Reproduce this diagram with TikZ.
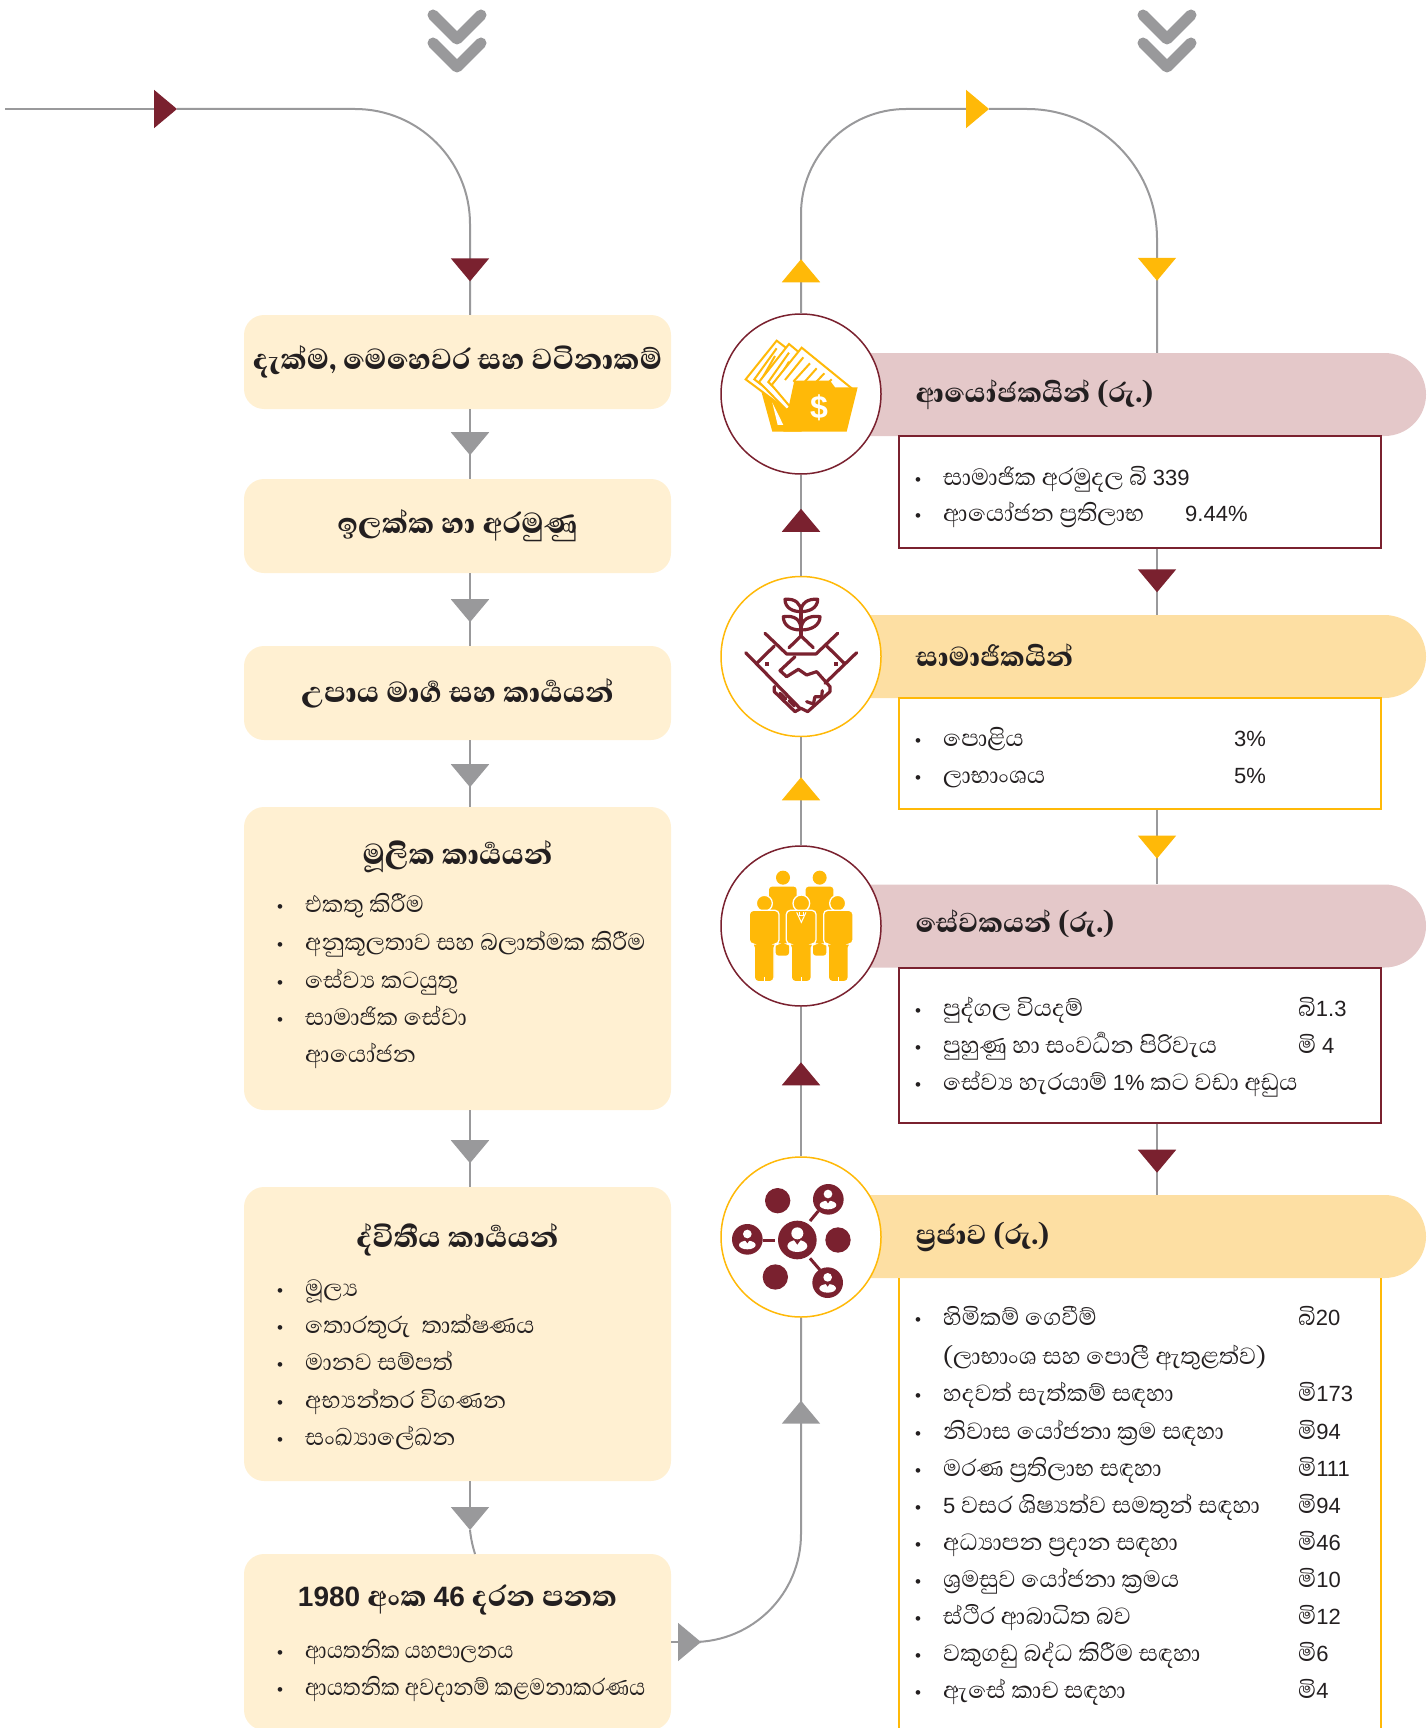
\documentclass[tikz,border=0pt]{standalone}
\usepackage{fontspec}
\usetikzlibrary{arrows.meta,decorations.markings,shapes.misc,calc}
\setmainfont{Liberation Sans}
\newfontfamily\sinfont[Script=Sinhala,BoldFont={Abhaya Libre ExtraBold}]{Abhaya Libre}
\newfontfamily\numfont{Liberation Sans}
\newcommand\rowfont{\sinfont\fontsize{30}{34}\selectfont}
\newcommand\headfont{\sinfont\bfseries\fontsize{37}{40}\selectfont}
\newcommand\leadfont{\sinfont\bfseries\fontsize{35}{38}\selectfont}
\newcommand\bul{\makebox[28pt][l]{\numfont\fontsize{17}{20}\selectfont •}}
\newcommand\nm[1]{{\numfont\fontsize{22}{30}\selectfont #1}}
\newcommand\hnm[1]{{\numfont\bfseries\fontsize{28}{30}\selectfont #1}}
\definecolor{wine}{HTML}{7A212F}
\definecolor{gold}{HTML}{FFB908}
\definecolor{slate}{HTML}{99999B}
\definecolor{cream}{HTML}{FFF0D2}
\definecolor{rose}{HTML}{E4C8C9}
\definecolor{sand}{HTML}{FDDFA3}
\definecolor{inkc}{HTML}{231F20}
\begin{document}
\begin{tikzpicture}[x=1pt,y=-1pt]
 \tikzset{
  flow/.style={draw=slate, line width=2pt},
  tipat/.style 2 args={postaction={decorate}, decoration={markings, mark=at position #1 with {\arrow{Triangle[length=23pt,width=38pt,color=#2,fill=#2]}}}},
  tipend/.style={-{Triangle[length=23pt,width=38pt,color=#1,fill=#1]}},
  card/.style={fill=cream, rounded corners=20pt, minimum width=427pt, inner sep=0pt, text=inkc},
  banner/.style={rounded rectangle, rounded rectangle left arc=none, minimum width=640pt, minimum height=83pt, inner sep=0pt, fill=#1},
  hub/.style={draw=#1, circle, line width=1.5pt, fill=white, minimum size=160pt, inner sep=0pt},
  panel/.style={draw=#1, line width=1.2pt, fill=white, minimum width=482pt, inner sep=0pt},
  head/.style={font=\headfont, text=inkc, anchor=base, yshift=-9pt, inner sep=0pt},
  lead/.style={font=\leadfont, text=inkc, anchor=base west, yshift=-9pt, inner sep=0pt},
  row/.style={font=\rowfont, text=inkc, anchor=base west, yshift=-8pt, inner sep=0pt},
  chevron/.style={draw=slate, line width=11pt, line cap=round, line join=round},
  glyph/.style={draw=wine, line width=3.2pt, line cap=round, line join=round},
 }
 \path[use as bounding box, clip] (0,0) rectangle (1426,1728);

 % axes of the three vertical runs
 \coordinate (laxis) at (470,0);
 \coordinate (maxis) at (801,0);
 \coordinate (raxis) at (1157,0);
 \coordinate (start) at (5,109);

 % left column
 \node[card, minimum height=94pt, font=\headfont] (vision) at (457.5,362) {දැක්ම, මෙහෙවර සහ වටිනාකම්};
 \node[card, minimum height=94pt, font=\headfont] (goals) at (457.5,526) {ඉලක්ක හා අරමුණු};
 \node[card, minimum height=94pt, font=\headfont] (strategy) at (457.5,693) {උපාය මාර්‍ග සහ කාර්‍යයන්};
 \node[card, minimum height=303pt] (primary) at (457.5,958.5) {};
 \node[card, minimum height=294pt] (support) at (457.5,1334) {};
 \node[card, minimum height=176pt] (act) at (457.5,1642) {};

 % right column
 \node[banner=rose] (investors) at (1106,394.5) {};
 \node[banner=sand] (members) at (1106,656.5) {};
 \node[banner=rose] (staff) at (1106,926) {};
 \node[banner=sand] (public) at (1106,1236.5) {};
 \node[panel=wine, minimum height=112pt] (investorsbox) at (1140,492) {};
 \node[panel=gold, minimum height=111pt] (membersbox) at (1140,753.5) {};
 \node[panel=wine, minimum height=155pt] (staffbox) at (1140,1045.5) {};
 \coordinate (publicl) at (899,1278);
 \coordinate (publicr) at (1381,1278);
 \draw[draw=gold, line width=1.2pt] (publicl) -- (publicl |- 0,1728);
 \draw[draw=gold, line width=1.2pt] (publicr) -- (publicr |- 0,1728);
 \node[hub=wine] (investorsicon) at (801,394) {};
 \node[hub=gold] (membersicon) at (801,656.5) {};
 \node[hub=wine] (stafficon) at (801,926) {};
 \node[hub=gold] (publicicon) at (801,1237) {};

 % connectors, left column
 \coordinate (toptip) at (177,109);
 \draw[flow, tipend=wine] (start) -- (toptip);
 \draw[flow, rounded corners=115pt, tipat={416pt}{wine}] (toptip) -- (laxis |- toptip) -- (laxis |- vision.north);
 \draw[flow, tipat={46pt}{slate}] (laxis |- vision.south) -- (laxis |- goals.north);
 \draw[flow, tipat={49pt}{slate}] (laxis |- goals.south) -- (laxis |- strategy.north);
 \draw[flow, tipat={47pt}{slate}] (laxis |- strategy.south) -- (laxis |- primary.north);
 \draw[flow, tipat={53pt}{slate}] (laxis |- primary.south) -- (laxis |- support.north);
 \coordinate (actin) at (475,1554);
 \coordinate (actbend) at (470,1530);
 \draw[flow, tipend=slate] (laxis |- support.south) -- (actbend);
 \draw[flow] (actbend) .. controls (471,1540) and (473,1547) .. (actin);

 % connectors, right column
 \coordinate (acttip) at (701,1642);
 \coordinate (toprtip) at (989,109);
 \draw[flow, tipend=slate] (act.east) -- (acttip);
 \draw[flow, rounded corners=108pt, tipat={311pt}{slate}] (acttip) -- (maxis |- acttip) -- (publicicon.south);
 \draw[flow, tipat={94pt}{wine}] (publicicon.north) -- (stafficon.south);
 \draw[flow, tipat={68pt}{gold}] (stafficon.north) -- (membersicon.south);
 \draw[flow, tipat={67pt}{wine}] (membersicon.north) -- (investorsicon.south);
 \draw[flow, tipend=gold, tipat={54pt}{gold}] (maxis |- investorsicon.north) [rounded corners=105pt] -- (maxis |- toprtip) -- (toprtip);
 \draw[flow, rounded corners=130pt, tipat={284pt}{gold}] (toprtip) -- (raxis |- toprtip) -- (raxis |- investors.north);
 \draw[flow, tipat={0.66}{wine}] (raxis |- investorsbox.south) -- (raxis |- members.north);
 \draw[flow, tipat={49pt}{gold}] (raxis |- membersbox.south) -- (raxis |- staff.north);
 \draw[flow, tipat={0.69}{wine}] (raxis |- staffbox.south) -- (raxis |- public.north);

 % the two chevron marks on top
 \coordinate (chevl) at (457,38);
 \coordinate (chevr) at (1167,38);
 \draw[chevron] ($(chevl)+(-24,-23)$) -- ($(chevl)+(0,1)$) -- ($(chevl)+(24,-23)$);
 \draw[chevron] ($(chevl)+(-24,5)$) -- ($(chevl)+(0,29)$) -- ($(chevl)+(24,5)$);
 \draw[chevron] ($(chevr)+(-24,-23)$) -- ($(chevr)+(0,1)$) -- ($(chevr)+(24,-23)$);
 \draw[chevron] ($(chevr)+(-24,5)$) -- ($(chevr)+(0,29)$) -- ($(chevr)+(24,5)$);

 % texts of the left cards
 \node[head] (primaryhead) at (457.5,855) {මූලික කාර්‍යයන්};
 \node[row] (p1) at (277,904) {\bul එකතු කිරීම};
 \node[row] (p2) at (277,942) {\bul අනුකූලතාව සහ බලාත්මක කිරීම};
 \node[row] (p3) at (277,980) {\bul සේව්‍ය කටයුතු};
 \node[row] (p4) at (277,1017) {\bul සාමාජික සේවා};
 \node[row] (p5) at (305,1054) {ආයෝජන};
 \node[head] (supporthead) at (457.5,1238) {ද්විතීය කාර්‍යයන්};
 \node[row] (s1) at (277,1288) {\bul මූල්‍ය};
 \node[row] (s2) at (277,1325) {\bul තොරතුරු\ \ තාක්ෂණය};
 \node[row] (s3) at (277,1362) {\bul මානව සම්පත්};
 \node[row] (s4) at (277,1400) {\bul අභ්‍යන්තර විගණන};
 \node[row] (s5) at (277,1437) {\bul සංඛ්‍යාලේඛන};
 \node[head] (acthead) at (457.5,1597) {\hnm{1980} අංක \hnm{46} දරන පනත};
 \node[row] (a1) at (277,1650) {\bul \scalebox{.88}[1]{ආයතනික යහපාලනය}};
 \node[row] (a2) at (277,1687) {\bul \scalebox{.88}[1]{ආයතනික අවදානම් කළමනාකරණය}};

 % texts of the right panels
 \node[lead] (investorshead) at (915.5,393) {ආයෝජකයින් (රු.)};
 \node[row] (i1) at (915,477) {\bul සාමාජික අරමුදල බි \nm{339}};
 \node[row] (i2) at (915,513) {\bul ආයෝජන ප්‍රතිලාභ};
 \node[row] (i2v) at (1185,513) {\nm{9.44\%}};
 \node[lead] (membershead) at (915.5,657) {සාමාජිකයින්};
 \node[row] (m1) at (915,738) {\bul පොළිය};
 \node[row] (m1v) at (1234,738) {\nm{3\%}};
 \node[row] (m2) at (915,775) {\bul ලාභාංශය};
 \node[row] (m2v) at (1234,775) {\nm{5\%}};
 \node[lead] (staffhead) at (915.5,923) {සේවකයන් (රු.)};
 \node[row] (t1) at (915,1008) {\bul පුද්ගල වියදම්};
 \node[row] (t1v) at (1298,1008) {බි\nm{1.3}};
 \node[row] (t2) at (915,1045) {\bul පුහුණු හා සංවර්‍ධන පිරිවැය};
 \node[row] (t2v) at (1298,1045) {මි \nm{4}};
 \node[row] (t3) at (915,1082) {\bul සේව්‍ය හැරයාම් \nm{1\%} කට වඩා අඩුය};
 \node[lead] (publichead) at (915.5,1235) {ප්‍රජාව (රු.)};
 \node[row] (u1) at (915,1317) {\bul හිමිකම් ගෙවීම්};
 \node[row] (u1v) at (1298,1317) {බි\nm{20}};
 \node[row] (u2) at (943,1356) {(ලාභාංශ සහ පොලී ඇතුළත්ව)};
 \node[row] (u3) at (915,1393) {\bul හදවත් සැත්කම් සඳහා};
 \node[row] (u3v) at (1298,1393) {මි\nm{173}};
 \node[row] (u4) at (915,1431) {\bul නිවාස යෝජනා ක්‍රම සඳහා};
 \node[row] (u4v) at (1298,1431) {මි\nm{94}};
 \node[row] (u5) at (915,1468) {\bul මරණ ප්‍රතිලාභ සඳහා};
 \node[row] (u5v) at (1298,1468) {මි\nm{111}};
 \node[row] (u6) at (915,1505) {\bul \nm{5} වසර ශිෂ්‍යත්ව සමතුන් සඳහා};
 \node[row] (u6v) at (1298,1505) {මි\nm{94}};
 \node[row] (u7) at (915,1542) {\bul අධ්‍යාපන ප්‍රදාන සඳහා};
 \node[row] (u7v) at (1298,1542) {මි\nm{46}};
 \node[row] (u8) at (915,1579) {\bul ශ්‍රමසුව යෝජනා ක්‍රමය};
 \node[row] (u8v) at (1298,1579) {මි\nm{10}};
 \node[row] (u9) at (915,1616) {\bul ස්ථිර ආබාධිත බව};
 \node[row] (u9v) at (1298,1616) {මි\nm{12}};
 \node[row] (u10) at (915,1653) {\bul වකුගඩු බද්ධ කිරීම සඳහා};
 \node[row] (u10v) at (1298,1653) {මි\nm{6}};
 \node[row] (u11) at (915,1690) {\bul ඇසේ කාච සඳහා};
 \node[row] (u11v) at (1298,1690) {මි\nm{4}};

 % icon: folder with papers
 \begin{scope}[shift={(715,320)},x=0.3333pt,y=-0.3333pt]
  \fill[gold] (140,218) -- (172,335) -- (260,335) -- (260,240) -- cycle;
  \fill[white] (172,248) -- (205,315) -- (188,315) -- cycle;
  \draw[gold, line width=2pt, fill=white] (185,62) -- (92,178) -- (215,270) -- (300,150) -- cycle;
  \draw[gold, line width=2pt] (185,85) -- (118,178) -- (205,245);
  \draw[gold, line width=2pt] (180,108) -- (140,178) -- (200,222);
  \draw[gold, line width=2pt, fill=white] (222,72) -- (132,186) -- (215,270) -- (340,170) -- cycle;
  \draw[gold, line width=2pt] (222,98) -- (160,186) -- (215,240);
  \draw[gold, line width=2pt] (222,125) -- (185,186) -- (218,212);
  \draw[gold, line width=2pt, fill=white] (260,83) -- (170,195) -- (225,260) -- (410,205) -- cycle;
  \draw[gold, line width=2pt] (265,112) -- (210,180);
  \draw[gold, line width=2pt] (285,130) -- (235,185);
  \draw[gold, line width=2pt] (305,145) -- (265,190);
  \draw[gold, line width=2pt] (328,160) -- (295,195);
  \draw[gold, line width=2pt] (350,178) -- (330,198);
  \fill[gold] (238,182) -- (345,182) -- (360,202) -- (428,202) -- (395,335) -- (205,335) -- cycle;
  \node[font=\numfont\bfseries\fontsize{32}{32}\selectfont, text=white, inner sep=0pt] (dollar) at (312,262) {\$};
 \end{scope}

 % icon: handshake and plant
 \begin{scope}[shift={(715,580)},x=0.3333pt,y=-0.3333pt]
  \draw[glyph] (258,95) .. controls (235,95) and (210,85) .. (210,58) .. controls (240,55) and (258,70) .. (258,95);
  \draw[glyph] (258,95) .. controls (281,95) and (308,85) .. (308,58) .. controls (278,55) and (258,70) .. (258,95);
  \draw[glyph] (258,150) .. controls (225,150) and (205,135) .. (205,110) .. controls (240,105) and (258,120) .. (258,150);
  \draw[glyph] (258,150) .. controls (291,150) and (315,135) .. (315,110) .. controls (280,105) and (258,120) .. (258,150);
  \draw[glyph] (258,95) -- (258,168);
  \draw[glyph] (222,203) -- (258,168) -- (295,203);
  \draw[glyph] (150,160) -- (215,222) -- (303,222) -- (368,160);
  \draw[glyph] (92,218) -- (255,385);
  \draw[glyph] (178,198) -- (125,250);
  \draw[glyph] (335,198) -- (388,250);
  \draw[glyph] (425,218) -- (330,310);
  \draw[glyph] (240,230) -- (195,272) -- (215,290) -- (250,268) -- (275,285) -- (305,275) -- (345,320) -- (345,335) -- (278,395) -- (258,385) -- (240,395) -- (178,335) -- (178,320);
  \draw[glyph] (195,340) -- (212,356);
  \draw[glyph] (222,362) -- (238,378);
  \draw[glyph] (275,365) -- (295,372) -- (300,350) -- (320,350) -- (322,332);
  \fill[wine] (149,246) rectangle (161,258);
  \fill[wine] (356,246) rectangle (368,258);
 \end{scope}

 % icon: group of people
 \begin{scope}[shift={(715,845)},x=0.3333pt,y=-0.3333pt]
  \fill[gold] (204,98) circle (21);
  \fill[gold] (314,98) circle (21);
  \fill[gold, rounded corners=3pt] (162,125) -- (245,125) -- (245,290) -- (222,290) -- (222,332) -- (182,332) -- (182,290) -- (162,290) -- cycle;
  \fill[gold, rounded corners=3pt] (272,125) -- (355,125) -- (355,290) -- (334,290) -- (334,332) -- (294,332) -- (294,290) -- (272,290) -- cycle;
  \draw[fill=gold, draw=white, line width=1.3pt] (148,175) circle (24);
  \draw[fill=gold, draw=white, line width=1.3pt] (368,175) circle (24);
  \draw[fill=gold, draw=white, line width=1.3pt] (259,175) circle (25);
  \draw[fill=gold, draw=white, line width=1.3pt, rounded corners=4pt] (103,196) -- (192,196) -- (192,297) -- (177,297) -- (177,410) -- (118,410) -- (118,297) -- (103,297) -- cycle;
  \draw[fill=gold, draw=white, line width=1.3pt, rounded corners=4pt] (214,196) -- (303,196) -- (303,297) -- (289,297) -- (289,410) -- (229,410) -- (229,297) -- (214,297) -- cycle;
  \draw[fill=gold, draw=white, line width=1.3pt, rounded corners=4pt] (326,196) -- (414,196) -- (414,297) -- (400,297) -- (400,410) -- (340,410) -- (340,297) -- (326,297) -- cycle;
  \draw[white, line width=1pt] (148,396) -- (148,410);
  \draw[white, line width=1pt] (259,396) -- (259,410);
  \draw[white, line width=1pt] (370,396) -- (370,410);
  \draw[white, line width=1pt] (245,202) -- (259,232) -- (273,202);
  \draw[white, line width=1pt] (252,202) -- (252,212) -- (266,212) -- (266,202);
 \end{scope}

 % icon: network of people
 \begin{scope}[shift={(710,1150)},x=0.3333pt,y=-0.3333pt]
  \draw[wine, line width=3pt] (300,213) -- (325,183);
  \draw[wine, line width=3pt] (158,270) -- (195,270);
  \draw[wine, line width=3pt] (300,325) -- (330,360);
  \fill[wine] (203,152) circle (38);
  \fill[wine] (384,270) circle (38);
  \fill[wine] (196,381) circle (38);
  \fill[wine] (262,270) circle (58);
  \fill[wine] (355,148) circle (46);
  \fill[wine] (112,268) circle (46);
  \fill[wine] (353,398) circle (46);
  \fill[white] (262,250) circle (18);
  \fill[white] (262,288) ellipse (30 and 18);
  \fill[wine] (252,270) -- (272,270) -- (262,284) -- cycle;
  \fill[white] (354,132) circle (13);
  \fill[white] (354,165) ellipse (25 and 13);
  \fill[wine] (347,150) -- (361,150) -- (354,160) -- cycle;
  \fill[white] (112,252) circle (13);
  \fill[white] (112,285) ellipse (25 and 13);
  \fill[wine] (105,270) -- (119,270) -- (112,280) -- cycle;
  \fill[white] (353,382) circle (13);
  \fill[white] (353,415) ellipse (25 and 13);
  \fill[wine] (346,400) -- (360,400) -- (353,410) -- cycle;
 \end{scope}
\end{tikzpicture}
\end{document}
